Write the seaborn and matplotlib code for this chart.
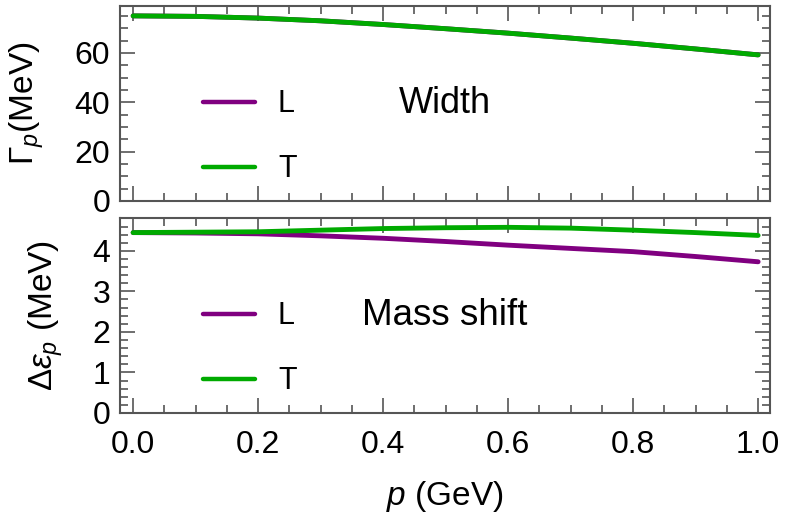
import numpy as np
import pandas as pd
import matplotlib
matplotlib.use("Agg")
import matplotlib.pyplot as plt
from matplotlib.ticker import MultipleLocator
from matplotlib.lines import Line2D
import seaborn as sns

# ---- data ----
p_vals = [0.0, 0.1, 0.2, 0.3, 0.4, 0.5, 0.6, 0.7, 0.8, 0.9, 1.0]
width_L = [75.0, 74.8, 74.1, 73.0, 71.5, 69.8, 68.0, 66.0, 63.9, 61.6, 59.2]
width_T = [75.0, 74.8, 74.1, 73.0, 71.5, 69.8, 68.0, 66.0, 63.9, 61.6, 59.2]
shift_L = [4.45, 4.44, 4.42, 4.37, 4.31, 4.23, 4.14, 4.06, 3.98, 3.86, 3.73]
shift_T = [4.45, 4.46, 4.47, 4.51, 4.55, 4.57, 4.58, 4.56, 4.51, 4.45, 4.38]
pol_labels = ["L", "T"]
x_ticks = [0.0, 0.2, 0.4, 0.6, 0.8, 1.0]
width_ticks = [0, 20, 40, 60]
shift_ticks = [0, 1, 2, 3, 4]

sns.set_style("ticks")
plt.rcParams["font.family"] = ["Liberation Sans", "DejaVu Sans"]
plt.rcParams["mathtext.fontset"] = "custom"
plt.rcParams["mathtext.rm"] = "Liberation Sans"
plt.rcParams["mathtext.it"] = "Liberation Sans:italic"
plt.rcParams["text.color"] = "black"
plt.rcParams["axes.labelcolor"] = "black"

colors = {"L": "#800080", "T": "#00aa00"}

df_w = pd.DataFrame({"p": p_vals * 2, "val": width_L + width_T,
                     "pol": ["L"] * len(p_vals) + ["T"] * len(p_vals)})
df_s = pd.DataFrame({"p": p_vals * 2, "val": shift_L + shift_T,
                     "pol": ["L"] * len(p_vals) + ["T"] * len(p_vals)})

W, H = 811, 522
fig = plt.figure(figsize=(W / 100, H / 100), dpi=100)
ax1 = fig.add_axes([120 / W, 1 - 201 / H, 650 / W, 195 / H])
ax2 = fig.add_axes([120 / W, 1 - 413 / H, 650 / W, 195 / H])

sns.lineplot(data=df_w, x="p", y="val", hue="pol", palette=colors, ax=ax1,
             linewidth=3.5, legend=False, hue_order=pol_labels)
sns.lineplot(data=df_s, x="p", y="val", hue="pol", palette=colors, ax=ax2,
             linewidth=3.5, legend=False, hue_order=pol_labels)

spine_col = "#555555"
for ax in (ax1, ax2):
    ax.set_xlim(-0.021, 1.019)
    ax.xaxis.set_major_locator(plt.FixedLocator(x_ticks))
    ax.xaxis.set_minor_locator(MultipleLocator(0.05))
    ax.tick_params(which="both", direction="in", top=True, right=True,
                   color=spine_col, width=1.2, labelcolor="black")
    ax.tick_params(which="major", length=11, labelsize=23, pad=7)
    ax.tick_params(which="minor", length=5.5)
    ax.tick_params(axis="x", which="major", pad=12)
    for s in ax.spines.values():
        s.set_color(spine_col)
        s.set_linewidth(1.5)
    handles = [Line2D([], [], color=colors[k], lw=3.2) for k in pol_labels]
    ax.legend(handles, pol_labels, frameon=False, fontsize=22,
              loc="upper left", bbox_to_anchor=(0.109, 0.636),
              handlelength=1.7, handletextpad=0.75, labelspacing=1.15,
              borderaxespad=0)

ax1.set_ylim(0, 79)
ax1.yaxis.set_major_locator(plt.FixedLocator(width_ticks))
ax1.yaxis.set_minor_locator(MultipleLocator(5))
ax1.set_xticklabels([])
ax1.set_xlabel("")
ax1.set_ylabel(r"$\Gamma_p$(MeV)", fontsize=24)
ax1.yaxis.set_label_coords(-0.114, 0.5)
ax1.text(0.50, 0.50, "Width", transform=ax1.transAxes, fontsize=26,
         ha="center", va="center")

ax2.set_ylim(0, 4.81)
ax2.yaxis.set_major_locator(plt.FixedLocator(shift_ticks))
ax2.yaxis.set_minor_locator(MultipleLocator(0.2))
ax2.set_xticklabels([f"{v:.1f}" for v in x_ticks])
ax2.set_xlabel(r"$p$ (GeV)", fontsize=24, labelpad=14)
ax2.set_ylabel(r"$\Delta\varepsilon_p$ (MeV)", fontsize=24)
ax2.yaxis.set_label_coords(-0.085, 0.5)
ax2.text(0.50, 0.50, "Mass shift", transform=ax2.transAxes, fontsize=26.5,
         ha="center", va="center")

fig.savefig("out.png", dpi=100)
